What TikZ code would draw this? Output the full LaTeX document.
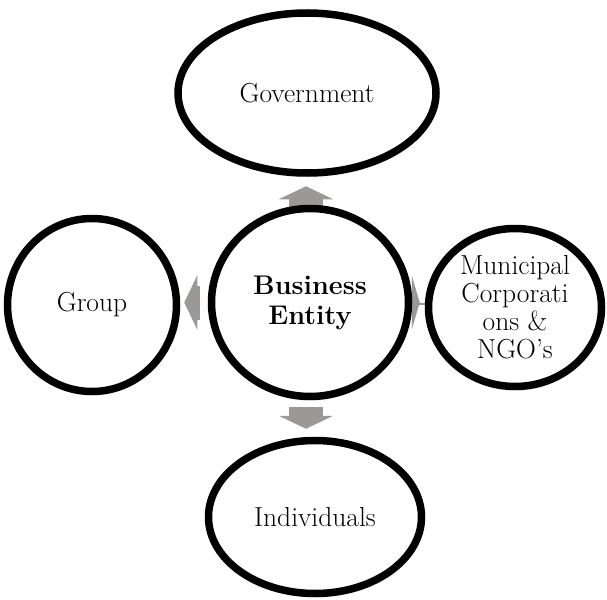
\documentclass[tikz,border=0pt]{standalone}
\usepackage{tikz}
\usetikzlibrary{arrows.meta,backgrounds,shapes.geometric,shadows.blur}
\definecolor{arrgray}{RGB}{155,152,150}
\tikzset{ring/.style={ellipse,draw=black,line width=7.5pt,fill=white,inner sep=0pt,align=center,
        font=\fontsize{27.5}{28}\selectfont,
        blur shadow={shadow xshift=1pt,shadow yshift=-3pt,shadow blur steps=6,shadow opacity=25}}}
\tikzset{blockarr/.style={draw=arrgray,line width=34pt,-{Triangle[width=54pt,length=#1]}},
        blockarr/.default=13pt}

\begin{document}
\begin{tikzpicture}[x=1pt,y=-1pt]
    \useasboundingbox (0,0) rectangle (607,599);
    \node[ring,minimum width=258pt,minimum height=160pt] (gov) at (307,93) {Government};
    \node[ring,minimum width=197pt,minimum height=188pt,font=\fontsize{27}{30}\selectfont\bfseries] (biz) at (310,302.5) {Business\\Entity};
    \node[ring,minimum width=169pt,minimum height=173pt] (grp) at (92,305) {Group};
    \node[ring,minimum width=173pt,minimum height=158pt] (mun) at (515,307.5) {Municipal\\Corporati\\ons \&\\NGO's};
    \node[ring,minimum width=213pt,minimum height=153pt] (ind) at (315,517) {Individuals};
    \coordinate (mid) at (306,302.5);
    \begin{scope}[on background layer]
        \draw[blockarr,shorten <=-4pt,shorten >=9.5pt] (mid |- biz.north) -- (mid |- gov.south);
        \draw[blockarr,shorten <=7pt,shorten >=8pt] (mid |- biz.south) -- (mid |- ind.north);
        \draw[blockarr,shorten <=8pt,shorten >=4pt] (biz.west) -- (biz.west -| grp.east);
        \draw[blockarr=8pt,shorten <=-2pt,shorten >=5pt] (biz.east) -- (biz.east -| mun.west);
    \end{scope}
\end{tikzpicture}
\end{document}
